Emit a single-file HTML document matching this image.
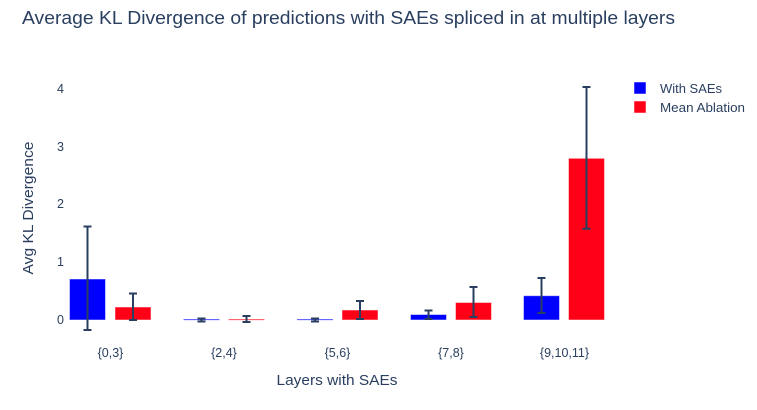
<!DOCTYPE html>
<html><head><meta charset="utf-8"><style>
html,body{margin:0;padding:0;background:#fff;}
svg text{font-family:"Liberation Sans",Arial,sans-serif;fill:#2a3f5f;}
</style></head><body>
<svg width="757" height="405" xmlns="http://www.w3.org/2000/svg">
<rect width="757" height="405" fill="#fff"/>
<text x="22" y="24" font-size="18" textLength="653" lengthAdjust="spacingAndGlyphs">Average KL Divergence of predictions with SAEs spliced in at multiple layers</text>
<g font-size="12.5" text-anchor="end">
<text x="64" y="324">0</text>
<text x="64" y="266">1</text>
<text x="64" y="208">2</text>
<text x="64" y="151">3</text>
<text x="64" y="93">4</text>
</g>
<text transform="translate(33,208) rotate(-90)" font-size="14.5" text-anchor="middle" textLength="133" lengthAdjust="spacingAndGlyphs">Avg KL Divergence</text>
<g font-size="12.5" text-anchor="middle">
<text x="110.5" y="357">{0,3}</text>
<text x="224" y="357">{2,4}</text>
<text x="337.5" y="357">{5,6}</text>
<text x="451" y="357">{7,8}</text>
<text x="564.5" y="357">{9,10,11}</text>
</g>
<text x="337" y="385" font-size="14.5" text-anchor="middle" textLength="121" lengthAdjust="spacingAndGlyphs">Layers with SAEs</text>
<g stroke="rgba(255,255,255,0.5)" stroke-width="1">
<rect x="69.5" y="279" width="36" height="41" fill="#0000ff"/>
<rect x="115" y="307" width="36" height="13" fill="#ff0016"/>
<rect x="183.5" y="319" width="36" height="1.2" fill="#0000ff"/>
<rect x="228.5" y="319" width="36" height="1.2" fill="#ff0016"/>
<rect x="297" y="319" width="36" height="1.2" fill="#0000ff"/>
<rect x="342" y="310" width="36" height="10" fill="#ff0016"/>
<rect x="410.5" y="314.5" width="36" height="5.5" fill="#0000ff"/>
<rect x="455.5" y="302.5" width="36" height="17.5" fill="#ff0016"/>
<rect x="523.5" y="295.7" width="36" height="24.3" fill="#0000ff"/>
<rect x="568.5" y="158.3" width="36" height="161.7" fill="#ff0016"/>
</g>
<g stroke="#2a3f5f" stroke-width="2" fill="none">
<path d="M87.5 226.5V330M83.5 226.5h8M83.5 330h8"/>
<path d="M133 293.5V320M129 293.5h8M129 320h8"/>
<path d="M201.5 318.5V321.5M197.5 318.5h8M197.5 321.5h8"/>
<path d="M246.5 316V322M242.5 316h8M242.5 322h8"/>
<path d="M315 318.5V321.5M311 318.5h8M311 321.5h8"/>
<path d="M360 301V319M356 301h8M356 319h8"/>
<path d="M428.5 310.5V319M424.5 310.5h8M424.5 319h8"/>
<path d="M473.5 287V317M469.5 287h8M469.5 317h8"/>
<path d="M541.5 278V313M537.5 278h8M537.5 313h8"/>
<path d="M586.5 87V228.7M582.5 87h8M582.5 228.7h8"/>
</g>
<rect x="634" y="82" width="12" height="12" fill="#0000ff" stroke="rgba(255,255,255,0.5)"/>
<rect x="634" y="101" width="12" height="12" fill="#ff0016" stroke="rgba(255,255,255,0.5)"/>
<text x="660" y="93" font-size="12.5" textLength="62" lengthAdjust="spacingAndGlyphs">With SAEs</text>
<text x="660" y="112" font-size="12.5" textLength="85" lengthAdjust="spacingAndGlyphs">Mean Ablation</text>
</svg>
</body></html>
